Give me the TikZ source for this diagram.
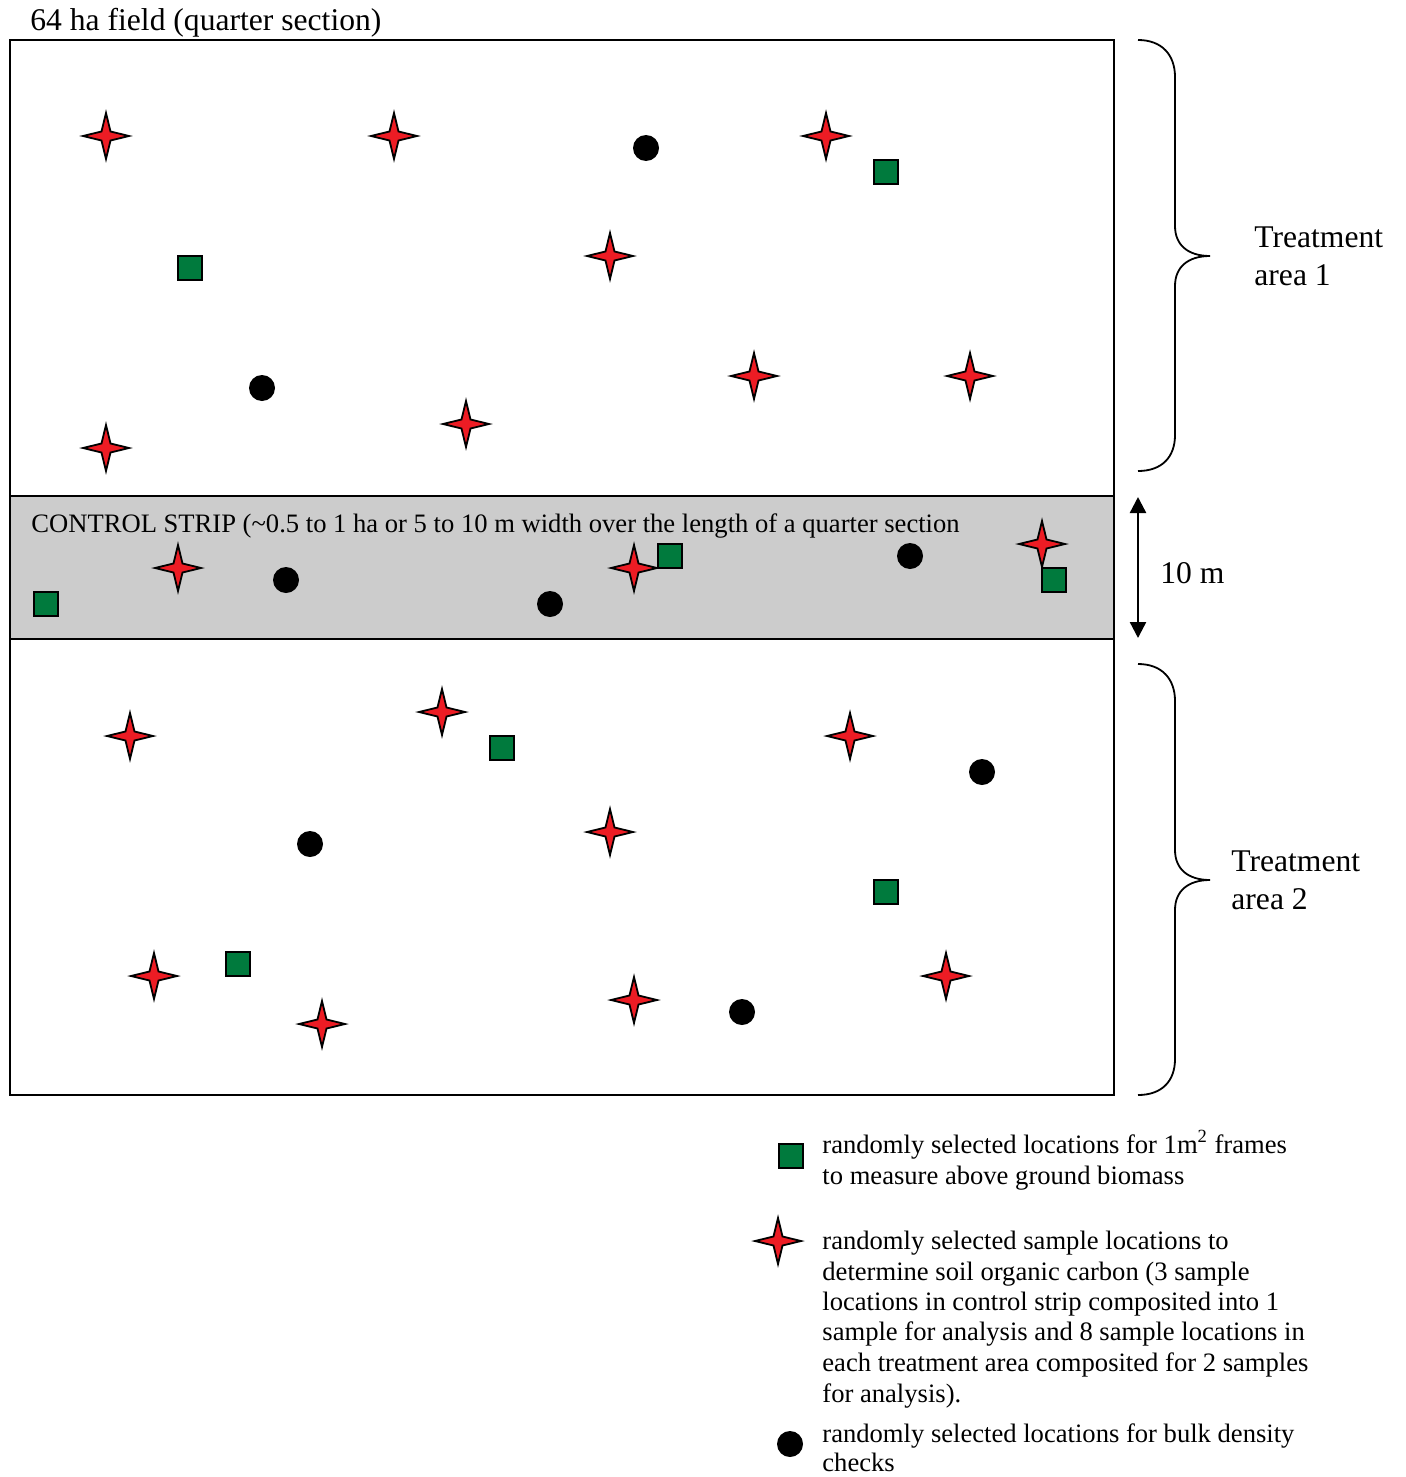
\documentclass[tikz,border=0pt]{standalone}
\usepackage{fontspec}
\setmainfont{Liberation Serif}
\usetikzlibrary{shapes.geometric,arrows.meta}
\definecolor{stripgray}{RGB}{204,204,204}
\definecolor{sqgreen}{RGB}{0,122,61}
\definecolor{stred}{RGB}{237,28,36}
\begin{document}
\begin{tikzpicture}[x=0.5pt,y=-0.5pt,
  bigtxt/.style={font=\fontsize{15.8}{19}\selectfont, inner sep=0, anchor=base west},
  smalltxt/.style={font=\fontsize{13.3}{16}\selectfont, inner sep=0, anchor=base west},
  sqmark/.style={rectangle, draw=black, fill=sqgreen, line width=1pt, minimum size=12pt, inner sep=0},
  dotmark/.style={circle, fill=black, minimum size=13pt, inner sep=0},
  starmark/.style={star, star points=4, star point ratio=3.6, draw=black, fill=stred, line width=0.9pt, minimum size=23pt, inner sep=0},
  bracestyle/.style={line width=0.9pt},
  fieldline/.style={line width=1pt}]
\useasboundingbox (0,0) rectangle (1405,1477);
\fill[white] (0,0) rectangle (1405,1477);
% field and control strip
\draw[fieldline] (10,40) rectangle (1114,1095);
\filldraw[fieldline, fill=stripgray] (10,496) rectangle (1114,639);
% texts
\node[bigtxt] (title) at (30,31) {64 ha field (quarter section)};
\node[smalltxt] (striptxt) at (31,532) {CONTROL STRIP (\textasciitilde0.5 to 1 ha or 5 to 10 m width over the length of a quarter section};
\node[bigtxt] (t1a) at (1254,247) {Treatment};
\node[bigtxt] (t1b) at (1254,285) {area 1};
\node[bigtxt] (t2a) at (1231,871) {Treatment};
\node[bigtxt] (t2b) at (1231,909) {area 2};
\node[bigtxt] (tenm) at (1160,583) {10 m};
% braces
\coordinate (b1top) at (1138,40);
\coordinate (b1bot) at (1138,471);
\coordinate (b2top) at (1138,664);
\coordinate (b2bot) at (1138,1095);
\draw[bracestyle] (b1top) .. controls (1162,40) and (1175,55) .. (1175,77) -- (1175,226)
  .. controls (1175,245) and (1188,256) .. (1210,256)
  .. controls (1188,256) and (1175,267) .. (1175,286) -- (1175,435)
  .. controls (1175,457) and (1162,471) .. (b1bot);
\draw[bracestyle] (b2top) .. controls (1162,664) and (1175,679) .. (1175,701) -- (1175,850)
  .. controls (1175,869) and (1188,880) .. (1210,880)
  .. controls (1188,880) and (1175,891) .. (1175,910) -- (1175,1059)
  .. controls (1175,1081) and (1162,1095) .. (b2bot);
% 10 m arrow
\coordinate (arrtop) at (1138,497);
\coordinate (arrbot) at (1138,638);
\draw[line width=1.2pt, {Triangle[width=8pt,length=8pt]}-{Triangle[width=8pt,length=8pt]}] (arrtop) -- (arrbot);
% stars
\foreach \px/\py [count=\i] in {106/136, 394/136, 826/136, 610/256, 754/376, 970/376, 466/424, 106/448,
  178/568, 634/568, 1042/544,
  130/736, 442/712, 850/736, 610/832, 154/976, 322/1024, 634/1000, 946/976}
  \node[starmark] (star\i) at (\px,\py) {};
% dots
\foreach \px/\py [count=\i] in {646/148, 262/388, 286/580, 550/604, 910/556, 982/772, 310/844, 742/1012}
  \node[dotmark] (dot\i) at (\px,\py) {};
% squares
\foreach \px/\py [count=\i] in {886/172, 190/268, 46/604, 670/556, 1054/580, 502/748, 886/892, 238/964}
  \node[sqmark] (sq\i) at (\px,\py) {};
% legend
\node[sqmark] (legsq) at (791,1156) {};
\node[starmark] (legstar) at (778,1241) {};
\node[dotmark] (legdot) at (790,1444) {};
\node[smalltxt] (leg1a) at (822,1153) {randomly selected locations for 1m\textsuperscript{2} frames};
\node[smalltxt] (leg1b) at (822,1184) {to measure above ground biomass};
\node[smalltxt] (leg2a) at (822,1249) {randomly selected sample locations to};
\node[smalltxt] (leg2b) at (822,1280) {determine soil organic carbon (3 sample};
\node[smalltxt] (leg2c) at (822,1310) {locations in control strip composited into 1};
\node[smalltxt] (leg2d) at (822,1340) {sample for analysis and 8 sample locations in};
\node[smalltxt] (leg2e) at (822,1371) {each treatment area composited for 2 samples};
\node[smalltxt] (leg2f) at (822,1402) {for analysis).};
\node[smalltxt] (leg3a) at (822,1442) {randomly selected locations for bulk density};
\node[smalltxt] (leg3b) at (822,1471) {checks};
\end{tikzpicture}
\end{document}
